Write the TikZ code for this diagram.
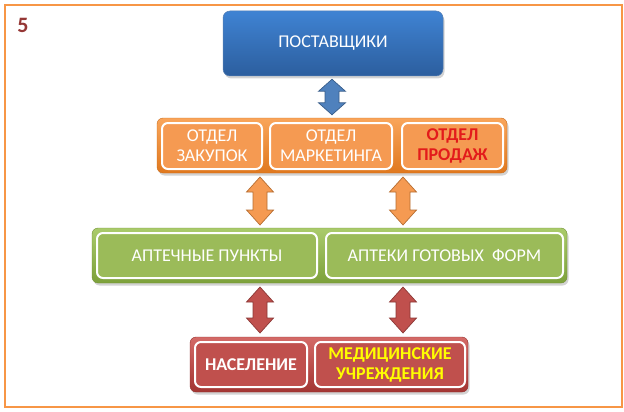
\documentclass[tikz,border=0pt]{standalone}
\usepackage{fontspec}
\setmainfont{Carlito}
\usetikzlibrary{shadows,calc}
\definecolor{frameor}{HTML}{F79646}
\definecolor{numred}{HTML}{953735}
\definecolor{bluetop}{HTML}{3F83D3}
\definecolor{bluebot}{HTML}{2C5E9E}
\definecolor{bluearr}{HTML}{4F81BD}
\definecolor{bluearrd}{HTML}{385D8A}
\definecolor{ortop}{HTML}{F9A55A}
\definecolor{orbot}{HTML}{E0781E}
\definecolor{orin}{HTML}{F59A52}
\definecolor{orarrd}{HTML}{B66D31}
\definecolor{grtop}{HTML}{AACB6B}
\definecolor{grbot}{HTML}{7DA13A}
\definecolor{grin}{HTML}{9BBB59}
\definecolor{rdtop}{HTML}{D46A67}
\definecolor{rdbot}{HTML}{A33532}
\definecolor{rdin}{HTML}{C0504D}
\definecolor{rdarrd}{HTML}{8C3836}
\definecolor{prodred}{HTML}{E31B1B}
\definecolor{medyel}{HTML}{FFFF00}
\newcommand\dblarr[4]{%
  \filldraw[#3] let \p1=(#1), \p2=(#2) in
    (\x1,\y1) -- (\x1+13.5pt,\y1-#4) -- (\x1+7pt,\y1-#4) -- (\x1+7pt,\y2+#4)
    -- (\x1+13.5pt,\y2+#4) -- (\x1,\y2) -- (\x1-13.5pt,\y2+#4) -- (\x1-7pt,\y2+#4)
    -- (\x1-7pt,\y1-#4) -- (\x1-13.5pt,\y1-#4) -- cycle;}
\begin{document}
\begin{tikzpicture}[x=1pt,y=-1pt,
  txt/.style={font=\fontsize{18}{20}\selectfont, text=white, align=center},
  boldtxt/.style={font=\fontsize{18}{20}\selectfont\bfseries},
  container/.style={rounded corners=6pt, drop shadow={opacity=0.35, shadow xshift=1.5pt, shadow yshift=-2.5pt}},
  inbox/.style={rounded corners=6pt, draw=white, line width=2pt, inner sep=0pt, txt},
  bluebox/.style={rounded corners=7pt, top color=bluetop, bottom color=bluebot, draw=bluebot!80, line width=0.5pt,
     drop shadow={opacity=0.35, shadow xshift=1.5pt, shadow yshift=-2.5pt}, inner sep=0pt, txt},
  orcont/.style={container, top color=ortop, bottom color=orbot, draw=orbot!90!black, line width=0.4pt},
  grcont/.style={container, top color=grtop, bottom color=grbot, draw=grbot!90!black, line width=0.4pt},
  rdcont/.style={container, top color=rdtop, bottom color=rdbot, draw=rdbot!90!black, line width=0.4pt},
  orbox/.style={inbox, fill=orin},
  grbox/.style={inbox, fill=grin},
  rdbox/.style={inbox, fill=rdin},
  blarr/.style={fill=bluearr, draw=bluearrd, line width=0.7pt, line join=miter},
  orarr/.style={fill=orin, draw=orarrd, line width=0.7pt, line join=miter},
  rdarr/.style={fill=rdin, draw=rdarrd, line width=0.7pt, line join=miter},
  framebox/.style={draw=frameor, line width=2pt},
  numtxt/.style={font=\fontsize{22}{24}\selectfont\bfseries, text=numred}
]
\useasboundingbox (0,0) rectangle (624,412);
\draw[framebox] (5,5) rectangle (621.5,407);
\node[numtxt] (num) at (23,25) {5};

% top
\node[bluebox, minimum width=220pt, minimum height=65pt] (sup) at (333,43.5) {ПОСТАВЩИКИ};

% orange level
\node[orcont, minimum width=350pt, minimum height=55pt] (orc) at (332,145.5) {};
\node[orbox, minimum width=100pt, minimum height=46pt] (zak) at (212,146) {ОТДЕЛ\\ЗАКУПОК};
\node[orbox, minimum width=122pt, minimum height=46pt] (mark) at (331,146) {ОТДЕЛ\\МАРКЕТИНГА};
\node[orbox, minimum width=101pt, minimum height=46pt, text=prodred, boldtxt] (prod) at (452.5,146) {ОТДЕЛ\\ПРОДАЖ};

% green level
\node[grcont, minimum width=475pt, minimum height=55pt] (grc) at (329.5,255.5) {};
\node[grbox, minimum width=220pt, minimum height=45pt] (apt) at (207,255.5) {АПТЕЧНЫЕ ПУНКТЫ};
\node[grbox, minimum width=237pt, minimum height=45pt] (agf) at (444.5,255.5) {АПТЕКИ ГОТОВЫХ\ \ ФОРМ};

% red level
\node[rdcont, minimum width=278pt, minimum height=55pt] (rdc) at (329,364.5) {};
\node[rdbox, minimum width=112pt, minimum height=45pt, boldtxt] (nas) at (251,364.5) {НАСЕЛЕНИЕ};
\node[rdbox, minimum width=150pt, minimum height=45pt, text=medyel, boldtxt] (med) at (390,364.5) {МЕДИЦИНСКИЕ\\УЧРЕЖДЕНИЯ};

% arrow end points
\coordinate (b1t) at ($(sup.south)+(-1,3)$);
\coordinate (b1b) at ($(orc.north)+(0,-3)$);
\coordinate (o1t) at (260,177);
\coordinate (o1b) at (260,225);
\coordinate (o2t) at (403,177);
\coordinate (o2b) at (403,225);
\coordinate (r1t) at (260,287);
\coordinate (r1b) at (260,333);
\coordinate (r2t) at (403,287);
\coordinate (r2b) at (403,333);

\dblarr{b1t}{b1b}{blarr}{12pt}
\dblarr{o1t}{o1b}{orarr}{15pt}
\dblarr{o2t}{o2b}{orarr}{15pt}
\dblarr{r1t}{r1b}{rdarr}{15pt}
\dblarr{r2t}{r2b}{rdarr}{15pt}
\end{tikzpicture}
\end{document}
